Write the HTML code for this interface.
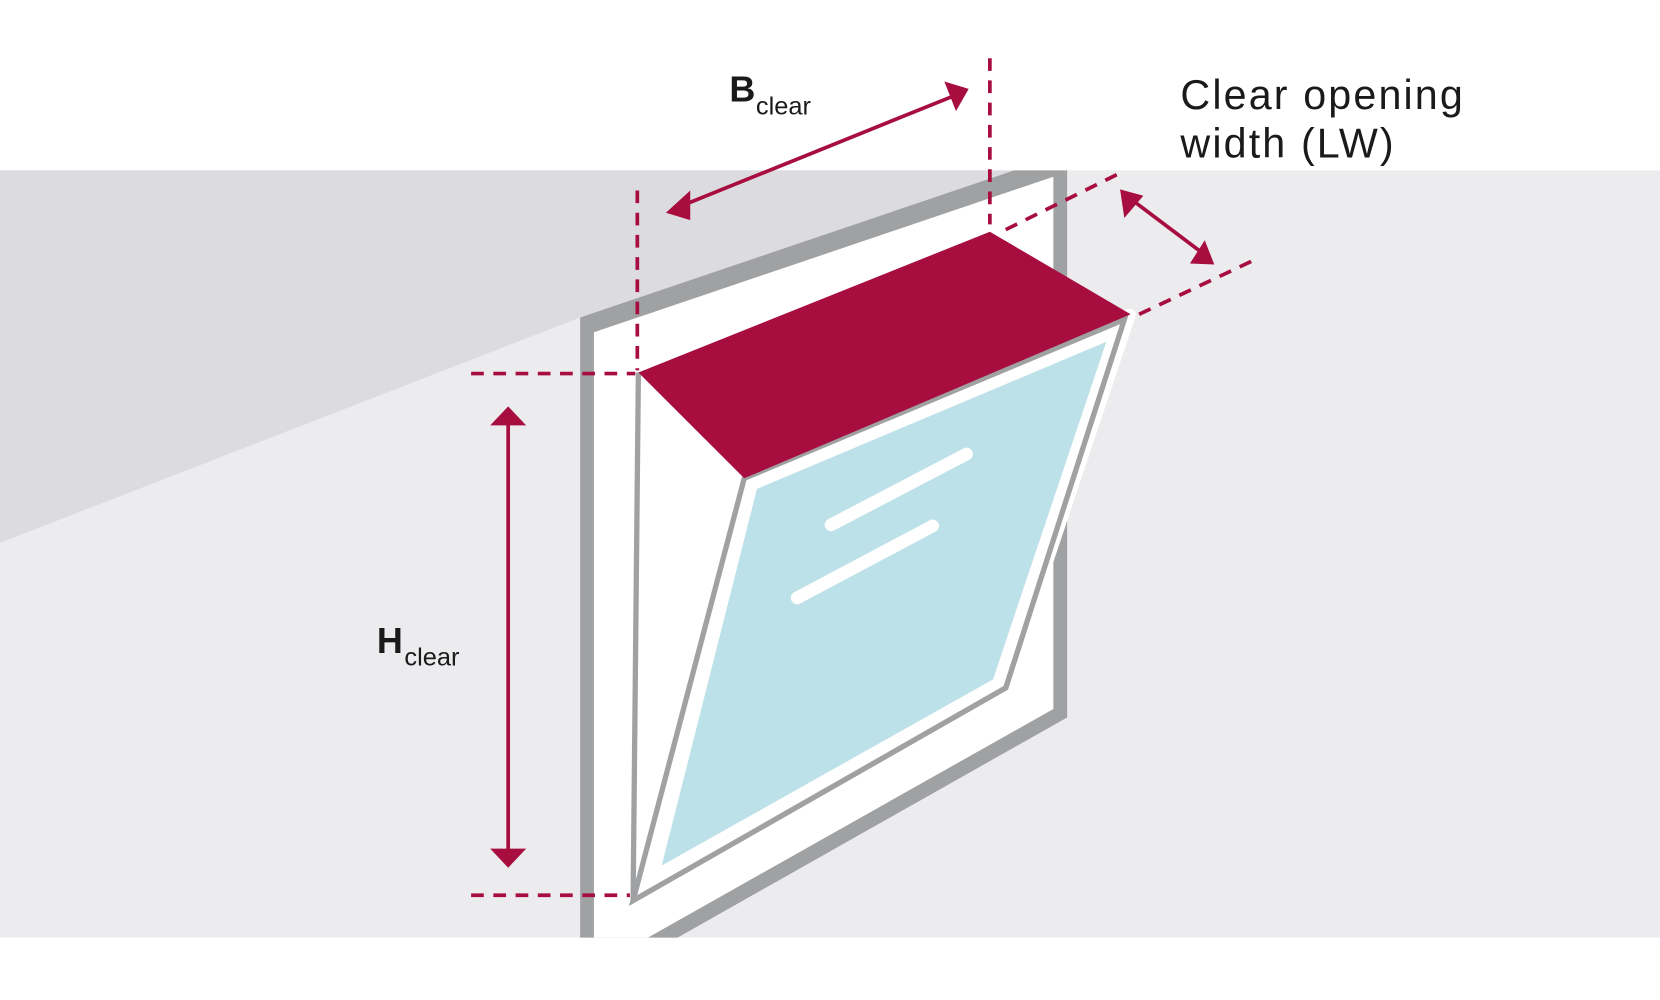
<!DOCTYPE html>
<html><head><meta charset="utf-8"><style>html,body{margin:0;padding:0;background:#fff}svg{display:block}</style></head><body>
<svg width="1660" height="1000" viewBox="0 0 1568 945" preserveAspectRatio="none" xmlns="http://www.w3.org/2000/svg">
<rect x="0" y="161" width="1568" height="725" fill="#ececef"/>
<polygon points="0,161 958,161 548,300 0,513" fill="#dcdce0"/>
<!-- frame -->
<polygon points="548,300 958,161 1008,161 1008,678 640,886 548,886" fill="#a0a1a3"/>
<polygon points="561,314 995,167 995,670 612,886 561,886" fill="#fff"/>
<!-- sash -->
<polygon points="603,352 1068,297 950,650 598,851" fill="#fff" stroke="#fff" stroke-width="10" stroke-linejoin="round"/>
<polyline points="603,352 598,851 950,650 1062,300" fill="none" stroke="#a0a1a3" stroke-width="5"/>
<polygon points="703,452 1062,302 950,650 598,851" fill="#fff" stroke="#a0a1a3" stroke-width="5"/>
<polygon points="715,462 1045,323 938,642 625,818" fill="#bde1e8"/>
<line x1="785" y1="496" x2="913" y2="429" stroke="#fff" stroke-width="12" stroke-linecap="round"/>
<line x1="753" y1="565" x2="881" y2="497" stroke="#fff" stroke-width="12" stroke-linecap="round"/>
<polygon points="603,352 935,219 1068,297 703,452" fill="#a80d40"/>
<!-- dashed -->
<g stroke="#a80d40" stroke-width="3.5" stroke-dasharray="12,9" fill="none">
<line x1="602" y1="180" x2="602" y2="350"/>
<line x1="935" y1="55" x2="935" y2="212"/>
<line x1="445" y1="353" x2="600" y2="353"/>
<line x1="445" y1="846" x2="595" y2="846"/>
<line x1="950" y1="217" x2="1055" y2="165"/>
<line x1="1076" y1="297" x2="1182" y2="247"/>
</g>
<!-- arrows -->
<g stroke="#a80d40" stroke-width="3.5">
<line x1="645" y1="194" x2="900" y2="91"/>
<line x1="480" y1="398" x2="480" y2="808"/>
<line x1="1068" y1="188" x2="1137" y2="240"/>
</g>
<g fill="#a80d40">
<polygon points="629,201 652,180 652,208"/>
<polygon points="915,84 892,77 903,105"/>
<polygon points="480,384 463,402 497,402"/>
<polygon points="480,820 463,802 497,802"/>
<polygon points="1058,179 1062,206 1080,185"/>
<polygon points="1147,250 1124,249 1138,227"/>
</g>
<g font-family="Liberation Sans, sans-serif" fill="#1a1a1a">
<text x="689" y="96" font-size="34" font-weight="bold">B</text>
<text x="714" y="108" font-size="24">clear</text>
<text x="356" y="617" font-size="34" font-weight="bold">H</text>
<text x="382" y="629" font-size="24">clear</text>
<text x="1115" y="103" font-size="39" letter-spacing="2">Clear opening</text>
<text x="1115" y="149" font-size="39" letter-spacing="2">width (LW)</text>
</g>
</svg>
</body></html>
